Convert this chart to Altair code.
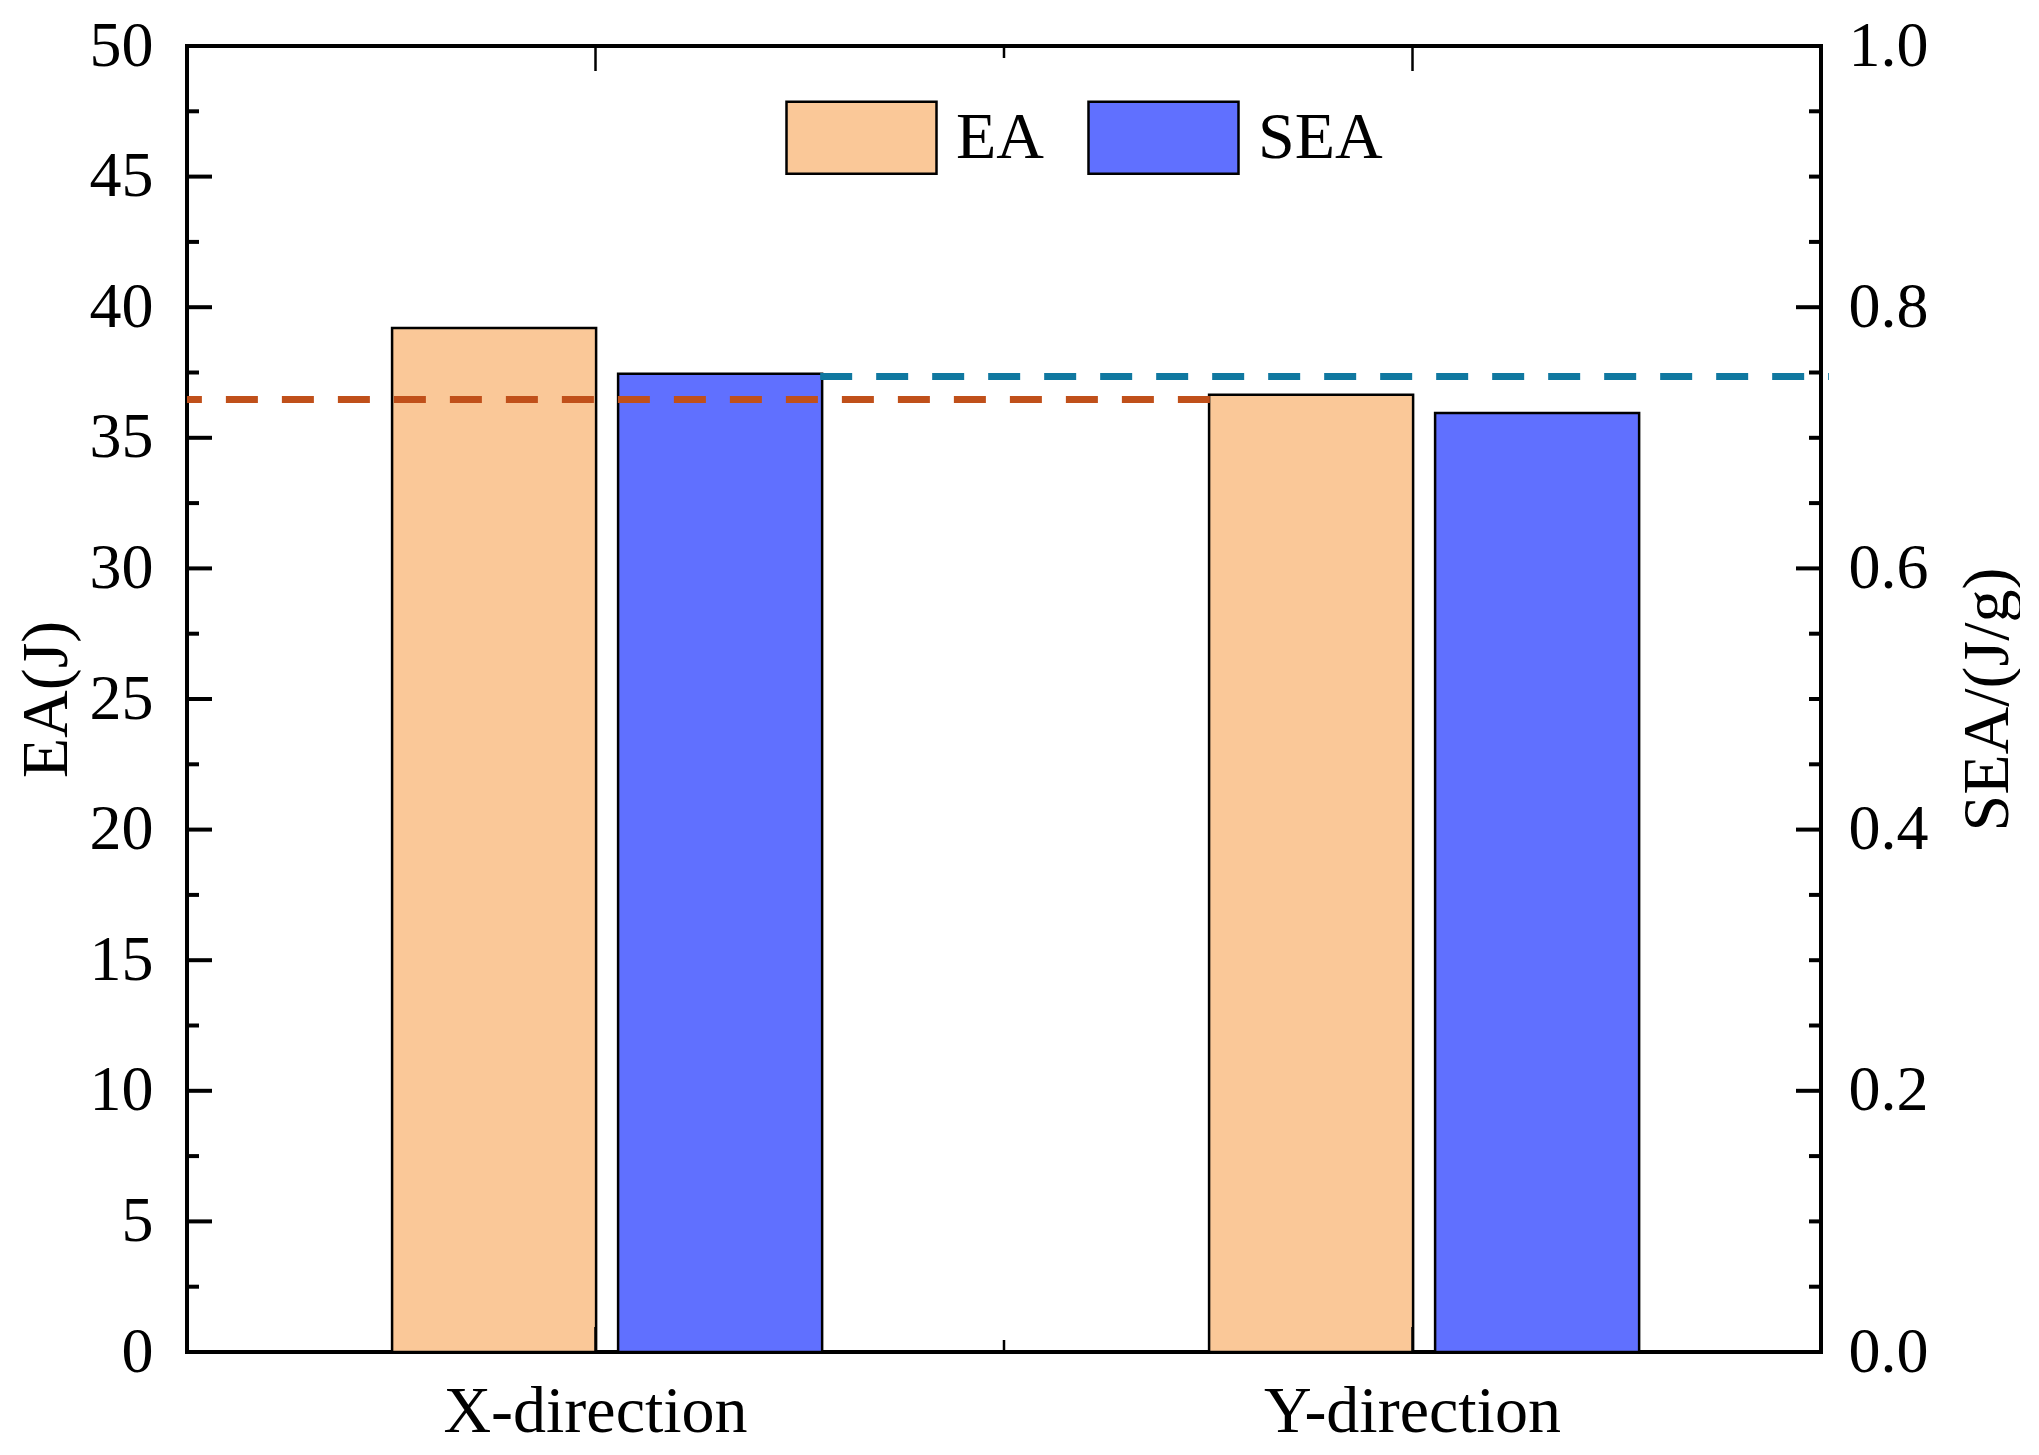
import altair as alt
import pandas as pd

# ---------------- data ----------------
categories = ["X-direction", "Y-direction"]
series = ["EA", "SEA"]
ea_values = [39.2, 36.65]      # EA (J)
sea_values = [0.749, 0.719]    # SEA (J/g)
ea_ref_line = [36.47]          # orange dashed reference (EA units)
sea_ref_line = [0.747]         # blue dashed reference (SEA units)

ea_major = [0, 5, 10, 15, 20, 25, 30, 35, 40, 45, 50]
ea_minor = [2.5, 7.5, 12.5, 17.5, 22.5, 27.5, 32.5, 37.5, 42.5, 47.5]
sea_major = [0.0, 0.2, 0.4, 0.6, 0.8, 1.0]
sea_minor = [0.05, 0.1, 0.15, 0.25, 0.3, 0.35, 0.45, 0.5, 0.55,
             0.65, 0.7, 0.75, 0.85, 0.9, 0.95]

EA_MAX = 50
SEA_MAX = 1.0

# ---------------- style ----------------
FONT = "Liberation Serif"
W, H = 1634, 1306
EA_COLOR = "#FAC898"
SEA_COLOR = "#6070FF"
ORANGE = "#C0501A"
BLUE = "#1078A0"

bars_df = pd.DataFrame({
    "cat": categories + categories,
    "series": ["EA"] * len(categories) + ["SEA"] * len(categories),
    "value": ea_values + sea_values,
})

ea_scale = alt.Scale(domain=[0, EA_MAX], nice=False, zero=True)
sea_scale = alt.Scale(domain=[0, SEA_MAX], nice=False, zero=True)

bars = alt.Chart(bars_df).transform_calculate(
    plotv=f"datum.series == 'SEA' ? datum.value * {EA_MAX / SEA_MAX} : datum.value"
).mark_bar(stroke="black", strokeWidth=2.5, opacity=1).encode(
    x=alt.X("cat:N", sort=categories,
            scale=alt.Scale(paddingInner=0, paddingOuter=0),
            axis=alt.Axis(title=None, labelAngle=0, labelFontSize=66,
                          labelPadding=27, labelBaseline="top", labelLimit=600)),
    xOffset=alt.XOffset("series:N", sort=series,
                        scale=alt.Scale(paddingInner=0.0973, paddingOuter=0.856, align=0.53)),
    y=alt.Y("plotv:Q", scale=ea_scale,
            axis=alt.Axis(orient="left", values=ea_major, title="EA(J)",
                          labelFontSize=64, labelPadding=34,
                          titleFontSize=66, titlePadding=9)),
    color=alt.Color("series:N",
                    scale=alt.Scale(domain=series, range=[EA_COLOR, SEA_COLOR]),
                    legend=alt.Legend(orient="none", legendX=598, legendY=15,
                                      direction="horizontal", title=None,
                                      symbolType="M-1,-0.48L1,-0.48L1,0.48L-1,0.48Z",
                                      symbolSize=22500, symbolStrokeColor="black",
                                      symbolStrokeWidth=2.5, symbolOpacity=1,
                                      labelFont=FONT, labelFontSize=66, labelColor="black",
                                      labelOffset=18, columnPadding=39, padding=0,
                                      labelLimit=400)),
)

orange = alt.Chart(pd.DataFrame({"end": [categories[1]], "v": ea_ref_line})).mark_rule(
    color=ORANGE, strokeWidth=7, strokeDash=[32, 24]
).encode(
    x=alt.X("end:N", sort=categories, bandPosition=0.252),
    x2=alt.value(0),
    y=alt.Y("v:Q", scale=ea_scale, axis=None),
)

blue = alt.Chart(pd.DataFrame({"start": [categories[0]], "v": sea_ref_line})).mark_rule(
    color=BLUE, strokeWidth=7, strokeDash=[32, 24]
).encode(
    x=alt.X("start:N", sort=categories, bandPosition=0.775),
    x2=alt.value(W + 8),
    y=alt.Y("v:Q", scale=sea_scale, axis=None),
)

left_major = alt.Chart(pd.DataFrame({"v": ea_major})).mark_rule(color="black", strokeWidth=4).encode(
    y=alt.Y("v:Q", scale=ea_scale, axis=None), x=alt.value(0), x2=alt.value(25))
left_minor = alt.Chart(pd.DataFrame({"v": ea_minor})).mark_rule(color="black", strokeWidth=4).encode(
    y=alt.Y("v:Q", scale=ea_scale, axis=None), x=alt.value(0), x2=alt.value(12))

right_major = alt.Chart(pd.DataFrame({"v": sea_major})).mark_rule(color="black", strokeWidth=4).encode(
    y=alt.Y("v:Q", scale=sea_scale,
            axis=alt.Axis(orient="right", values=sea_major, format=".1f",
                          title="SEA/(J/g)", titleAngle=270, titleBaseline="top",
                          labelFontSize=64, labelPadding=27,
                          titleFontSize=66, titlePadding=27)),
    x=alt.value(W), x2=alt.value(W - 25))
right_minor = alt.Chart(pd.DataFrame({"v": sea_minor})).mark_rule(color="black", strokeWidth=4).encode(
    y=alt.Y("v:Q", scale=sea_scale, axis=None), x=alt.value(W), x2=alt.value(W - 12))

xcat_df = pd.DataFrame({"cat": categories})
x_bottom = alt.Chart(xcat_df).mark_rule(color="black", strokeWidth=2.5).encode(
    x=alt.X("cat:N", sort=categories, bandPosition=0.5),
    y=alt.value(H), y2=alt.value(H - 25))
x_top = alt.Chart(xcat_df).mark_rule(color="black", strokeWidth=2.5).encode(
    x=alt.X("cat:N", sort=categories, bandPosition=0.5),
    y=alt.value(0), y2=alt.value(25))
mid_df = pd.DataFrame({"cat": categories[1:]})
x_bottom_mid = alt.Chart(mid_df).mark_rule(color="black", strokeWidth=2.5).encode(
    x=alt.X("cat:N", sort=categories, bandPosition=0),
    y=alt.value(H), y2=alt.value(H - 12))
x_top_mid = alt.Chart(mid_df).mark_rule(color="black", strokeWidth=2.5).encode(
    x=alt.X("cat:N", sort=categories, bandPosition=0),
    y=alt.value(0), y2=alt.value(12))

chart = alt.layer(
    bars, orange, blue, left_major, left_minor, right_major, right_minor,
    x_bottom, x_top, x_bottom_mid, x_top_mid,
).resolve_scale(y="independent").properties(
    width=W, height=H,
    padding={"left": 5, "top": 6, "right": 0, "bottom": 5},
    background="white",
).configure_view(
    stroke="black", strokeWidth=4
).configure_axis(
    grid=False, domain=False, ticks=False,
    labelFont=FONT, titleFont=FONT, labelColor="black", titleColor="black",
    titleFontWeight="normal",
)

chart.save("out.html", embed_options={"renderer": "svg", "actions": False})
